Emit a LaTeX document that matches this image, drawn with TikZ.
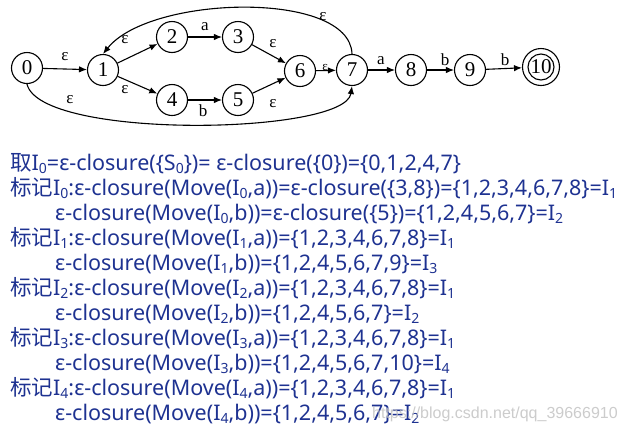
\documentclass[tikz,border=0pt]{standalone}
\usepackage{fontspec}
\setmainfont{Noto Sans}
\newfontfamily\cjk{Noto Sans CJK SC}
\newfontfamily\tms{Liberation Serif}
\newfontfamily\wmfont{Liberation Sans}
\usetikzlibrary{arrows.meta}
\definecolor{txtblue}{RGB}{30,50,145}
\newcommand\sbs[1]{\raisebox{-0.3ex}{\fontsize{14}{14}\selectfont #1}}
\begin{document}
\begin{tikzpicture}[x=1pt,y=-1pt,
  st/.style={circle,draw,line width=1.1pt,minimum size=31pt,inner sep=0pt,font=\tms\fontsize{21}{21}\selectfont},
  ed/.style={line width=1.1pt,-{Latex[length=8pt,width=6.5pt]}},
  lb/.style={font=\tms\fontsize{17}{17}\selectfont,inner sep=0pt},
  ln/.style={anchor=base west,inner sep=0pt,text=txtblue,font=\fontsize{21.5}{21.5}\selectfont},
  wm/.style={anchor=base west,inner sep=0pt,text=black!25,opacity=0.8,font=\wmfont\fontsize{16}{16}\selectfont}]
\useasboundingbox (0,0) rectangle (625,432);
% states
\node[st] (s0) at (27,68) {0};
\node[st] (s1) at (103,70) {1};
\node[st] (s2) at (172,37) {2};
\node[st] (s3) at (238,37) {3};
\node[st] (s4) at (172,100) {4};
\node[st] (s5) at (238,100) {5};
\node[st] (s6) at (300,71) {6};
\node[st] (s7) at (352,70) {7};
\node[st] (s8) at (411,70) {8};
\node[st] (s9) at (470,70) {9};
\node[st,minimum size=37pt] (s10) at (541,67) {10};
\draw[line width=1.1pt] (s10.center) circle (13pt);
% transitions
\draw[ed] (s0) -- (s1) node[lb] at (65,57) {ε};
\draw[ed] (s1) -- (s2) node[lb] at (125,40) {ε};
\draw[ed] (s1) -- (s4) node[lb] at (125,90) {ε};
\draw[ed] (s2) -- (s3) node[lb] at (205,27) {a};
\draw[ed] (s3) -- (s6) node[lb] at (273,44) {ε};
\draw[ed] (s4) -- (s5) node[lb] at (203,111) {b};
\draw[ed] (s5) -- (s6) node[lb] at (273,104) {ε};
\draw[ed] (s6) -- (s7) node[lb,font=\tms\fontsize{13}{13}\selectfont] at (325,67) {ε};
\draw[ed] (s7) -- (s8) node[lb] at (381,61) {a};
\draw[ed] (s8) -- (s9) node[lb] at (445,60) {b};
\draw[ed] (s9) -- (s10) node[lb] at (505,60) {b};
\draw[ed] (s7.north) .. controls (350,-10) and (150,-5) .. (s1.north) node[lb] at (323,17) {ε};
\draw[ed] (s0.south) .. controls (40,140) and (345,135) .. (s7.south) node[lb] at (70,100) {ε};
% text
\node[ln] (t1) at (10,170) {{\cjk 取}I\sbs{0}=ε-closure(\{S\sbs{0}\})= ε-closure(\{0\})=\{0,1,2,4,7\}};
\node[ln] (t2) at (10,195) {{\cjk 标记}I\sbs{0}:ε-closure(Move(I\sbs{0},a))=ε-closure(\{3,8\})=\{1,2,3,4,6,7,8\}=I\sbs{1}};
\node[ln] (t3) at (55,220) {ε-closure(Move(I\sbs{0},b))=ε-closure(\{5\})=\{1,2,4,5,6,7\}=I\sbs{2}};
\node[ln] (t4) at (10,245) {{\cjk 标记}I\sbs{1}:ε-closure(Move(I\sbs{1},a))=\{1,2,3,4,6,7,8\}=I\sbs{1}};
\node[ln] (t5) at (55,270) {ε-closure(Move(I\sbs{1},b))=\{1,2,4,5,6,7,9\}=I\sbs{3}};
\node[ln] (t6) at (10,295) {{\cjk 标记}I\sbs{2}:ε-closure(Move(I\sbs{2},a))=\{1,2,3,4,6,7,8\}=I\sbs{1}};
\node[ln] (t7) at (55,320) {ε-closure(Move(I\sbs{2},b))=\{1,2,4,5,6,7\}=I\sbs{2}};
\node[ln] (t8) at (10,345) {{\cjk 标记}I\sbs{3}:ε-closure(Move(I\sbs{3},a))=\{1,2,3,4,6,7,8\}=I\sbs{1}};
\node[ln] (t9) at (55,370) {ε-closure(Move(I\sbs{3},b))=\{1,2,4,5,6,7,10\}=I\sbs{4}};
\node[ln] (t10) at (10,395) {{\cjk 标记}I\sbs{4}:ε-closure(Move(I\sbs{4},a))=\{1,2,3,4,6,7,8\}=I\sbs{1}};
\node[ln] (t11) at (55,420) {ε-closure(Move(I\sbs{4},b))=\{1,2,4,5,6,7\}=I\sbs{2}};
\node[wm] (wm) at (372,418) {https://blog.csdn.net/qq\_39666910};
\end{tikzpicture}
\end{document}
